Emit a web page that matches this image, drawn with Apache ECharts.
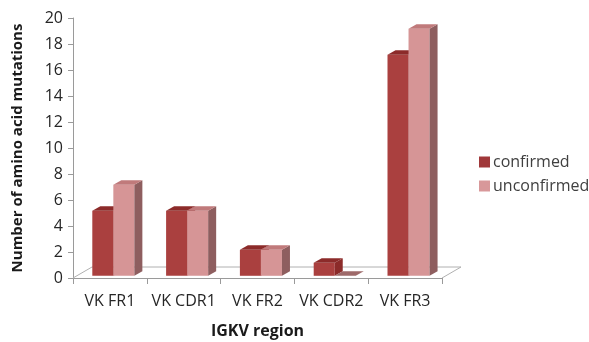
<!DOCTYPE html>
<html>
<head>
<meta charset="utf-8">
<script src="https://cdn.jsdelivr.net/npm/echarts@6/dist/echarts.min.js"></script>
<style>
html, body { margin: 0; padding: 0; background: #fff; }
#chart { width: 589px; height: 342px; }
</style>
</head>
<body>
<div id="chart"></div>
<script>
const categories = ['VK FR1', 'VK CDR1', 'VK FR2', 'VK CDR2', 'VK FR3']
const confirmed = [5, 5, 2, 1, 17]
const unconfirmed = [7, 5, 2, 0, 19]
const seriesNames = ['confirmed', 'unconfirmed']

// 3D look: floor depth and bar depth in pixels
const floorDx = 19, floorDy = -11
const barStartDx = 3.8, barStartDy = -2.2
const barDx = 8, barDy = -4.6

const faceColors = [
    { front: '#AA403F', top: '#8C2B2A', side: '#8C2B2A' },
    { front: '#D69596', top: '#C07A7B', side: '#8E5E5F' }
]

function bar3d(seriesIdx) {
    return function (params, api) {
        let i = api.value(0)
        let v = api.value(1)
        let catW = api.size([1, 0])[0]
        let base = api.coord([i, 0])
        let top = api.coord([i, v])
        let w = catW * 0.285
        let x0 = base[0] - catW * 0.29 + seriesIdx * w + barStartDx
        let x1 = x0 + w
        let yb = base[1] + barStartDy
        let yt = top[1] + barStartDy
        let c = faceColors[seriesIdx]
        let children = []
        if (v > 0) {
            children.push({ type: 'rect', shape: { x: x0, y: yt, width: w, height: yb - yt }, style: { fill: c.front } })
            children.push({ type: 'polygon', shape: { points: [[x1, yt], [x1 + barDx, yt + barDy], [x1 + barDx, yb + barDy], [x1, yb]] }, style: { fill: c.side } })
        }
        children.push({ type: 'polygon', shape: { points: [[x0, yt], [x0 + barDx, yt + barDy], [x1 + barDx, yt + barDy], [x1, yt]] }, style: { fill: v > 0 ? c.top : '#9E6A6A' } })
        return { type: 'group', children: children }
    }
}

let myChart = echarts.init(document.getElementById('chart'))
let option = {
    animation: false,
    textStyle: { fontFamily: 'Open Sans' },
    grid: { left: 73, right: 147, top: 18, bottom: 64, outerBoundsMode: 'none', containLabel: false },
    legend: {
        orient: 'vertical',
        left: 474,
        top: 149,
        itemWidth: 11,
        itemHeight: 11,
        itemGap: 8,
        icon: 'rect',
        data: seriesNames,
        textStyle: { color: '#404040', fontSize: 16, fontFamily: 'Open Sans', padding: [0, 0, 0, -2] }
    },
    xAxis: {
        type: 'category',
        data: categories,
        name: 'IGKV region',
        nameLocation: 'middle',
        nameGap: 45,
        nameTextStyle: { color: '#1a1a1a', fontSize: 16, fontWeight: 'bold' },
        axisLine: { lineStyle: { color: '#9a9a9a' } },
        axisTick: { show: true, length: 6, lineStyle: { color: '#9a9a9a' } },
        axisLabel: { color: '#262626', fontSize: 16, margin: 15, interval: 0 }
    },
    yAxis: {
        type: 'value',
        min: 0,
        max: 20,
        interval: 2,
        name: 'Number of amino acid mutations',
        nameLocation: 'middle',
        nameGap: 48,
        nameTextStyle: { color: '#1a1a1a', fontSize: 15, fontWeight: 'bold' },
        axisLine: { show: true, lineStyle: { color: '#9a9a9a' } },
        axisTick: { show: true, inside: false, length: 5, lineStyle: { color: '#9a9a9a' } },
        axisLabel: { color: '#262626', fontSize: 16, margin: 10 },
        splitLine: { show: false }
    },
    series: [
        {
            name: 'floor',
            type: 'custom',
            silent: true,
            data: [[0, 0]],
            renderItem: function (params, api) {
                let cs = params.coordSys
                let yb = cs.y + cs.height
                return {
                    type: 'polyline',
                    shape: { points: [[cs.x, yb], [cs.x + floorDx, yb + floorDy], [cs.x + cs.width + floorDx, yb + floorDy], [cs.x + cs.width, yb]] },
                    style: { stroke: '#b0b0b0', lineWidth: 1, fill: null }
                }
            },
            z: 1
        },
        {
            name: seriesNames[0],
            type: 'custom',
            itemStyle: { color: '#A0383A' },
            data: confirmed.map((v, i) => [i, v]),
            renderItem: bar3d(0),
            encode: { x: 0, y: 1 },
            z: 2
        },
        {
            name: seriesNames[1],
            type: 'custom',
            itemStyle: { color: '#D8989A' },
            data: unconfirmed.map((v, i) => [i, v]),
            renderItem: bar3d(1),
            encode: { x: 0, y: 1 },
            z: 3
        }
    ]
}
myChart.setOption(option)
window.addEventListener('resize', function () {
    myChart.resize()
})
</script>
</body>
</html>
